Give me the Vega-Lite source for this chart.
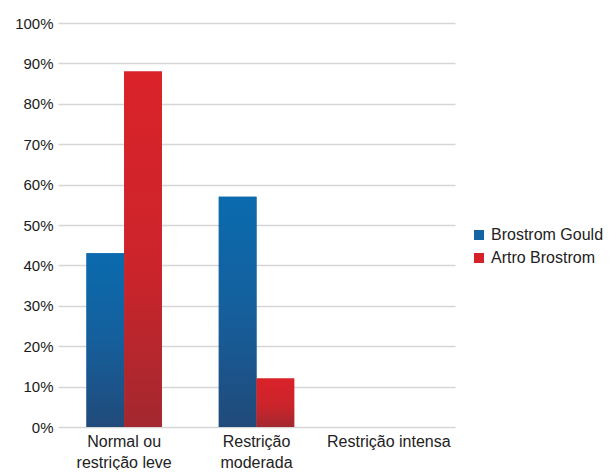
{
  "$schema": "https://vega.github.io/schema/vega-lite/v6.json",
  "width": 397,
  "height": 404,
  "padding": {"left": 14, "top": 16, "right": 0, "bottom": 0},
  "config": {
    "view": {"stroke": null},
    "font": "Liberation Sans",
    "axis": {"labelFont": "Liberation Sans", "titleFont": "Liberation Sans"},
    "legend": {"labelFont": "Liberation Sans"}
  },
  "data": {
    "values": [
      {"categoria": "Normal ou restrição leve", "tecnica": "Brostrom Gould", "valor": 0.43},
      {"categoria": "Normal ou restrição leve", "tecnica": "Artro Brostrom", "valor": 0.88},
      {"categoria": "Restrição moderada", "tecnica": "Brostrom Gould", "valor": 0.57},
      {"categoria": "Restrição moderada", "tecnica": "Artro Brostrom", "valor": 0.12},
      {"categoria": "Restrição intensa", "tecnica": "Brostrom Gould", "valor": 0},
      {"categoria": "Restrição intensa", "tecnica": "Artro Brostrom", "valor": 0}
    ]
  },
  "encoding": {
    "x": {
      "field": "categoria",
      "type": "nominal",
      "sort": ["Normal ou restrição leve", "Restrição moderada", "Restrição intensa"],
      "scale": {"paddingInner": 0.43, "paddingOuter": 0.215},
      "axis": {
        "title": null,
        "labelAngle": 0,
        "domain": false,
        "ticks": false,
        "labelPadding": 6,
        "labelFontSize": 16,
        "labelColor": "#222222",
        "labelLineHeight": 21,
        "labelExpr": "datum.value == 'Normal ou restrição leve' ? ['Normal ou', 'restrição leve'] : datum.value == 'Restrição moderada' ? ['Restrição', 'moderada'] : datum.value"
      }
    },
    "xOffset": {
      "field": "tecnica",
      "type": "nominal",
      "scale": {"domain": ["Brostrom Gould", "Artro Brostrom"], "paddingInner": 0, "paddingOuter": 0}
    },
    "y": {
      "field": "valor",
      "type": "quantitative",
      "scale": {"domain": [0, 1], "nice": false},
      "axis": {
        "title": null,
        "format": ".0%",
        "values": [0, 0.1, 0.2, 0.3, 0.4, 0.5, 0.6, 0.7, 0.8, 0.9, 1],
        "domain": false,
        "ticks": false,
        "labelPadding": 5,
        "labelFontSize": 15,
        "labelColor": "#1a1a1a",
        "gridColor": "#d6d6d6",
        "gridWidth": 1.5
      }
    }
  },
  "layer": [
    {
      "mark": {"type": "bar"},
      "encoding": {
        "color": {
          "field": "tecnica",
          "type": "nominal",
          "scale": {"domain": ["Brostrom Gould", "Artro Brostrom"], "range": ["#1565a5", "#d62128"]},
          "legend": {
            "title": null,
            "orient": "none",
            "legendX": 413,
            "legendY": 204,
            "symbolType": "square",
            "symbolSize": 100,
            "symbolStrokeWidth": 0,
            "labelFontSize": 16,
            "labelColor": "#222222",
            "rowPadding": 7,
            "labelOffset": 4
          }
        }
      }
    },
    {
      "transform": [{"filter": "datum.tecnica == 'Brostrom Gould'"}],
      "mark": {
        "type": "bar",
        "color": {
          "gradient": "linear",
          "x1": 0, "y1": 0, "x2": 0, "y2": 1,
          "stops": [
            {"offset": 0, "color": "#0a6bae"},
            {"offset": 0.5, "color": "#155f9c"},
            {"offset": 1, "color": "#214a7a"}
          ]
        }
      }
    },
    {
      "transform": [{"filter": "datum.tecnica == 'Artro Brostrom'"}],
      "mark": {
        "type": "bar",
        "color": {
          "gradient": "linear",
          "x1": 0, "y1": 0, "x2": 0, "y2": 1,
          "stops": [
            {"offset": 0, "color": "#da2229"},
            {"offset": 0.55, "color": "#cc242b"},
            {"offset": 1, "color": "#a3282f"}
          ]
        }
      }
    }
  ]
}
